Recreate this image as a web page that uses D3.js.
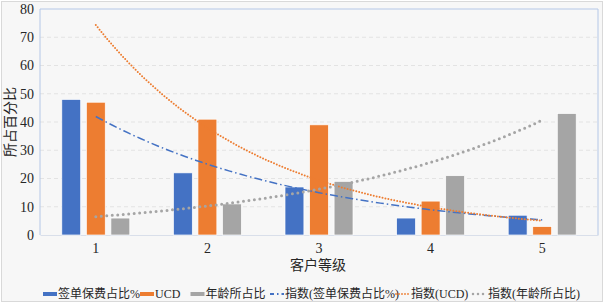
<!DOCTYPE html>
<html>
<head>
<meta charset="utf-8">
<script src="https://cdn.jsdelivr.net/npm/d3@7"></script>
<style>
  body { margin: 0; background: #fff; }
  text { font-family: "Liberation Serif", "Noto Sans CJK SC", serif; fill: #262626; }
</style>
</head>
<body>
<svg width="604" height="303"></svg>
<script>
// chart data
var categories = ["1", "2", "3", "4", "5"];
var premiumShare = [48, 22, 17, 6, 7];   // 签单保费占比%
var ucdShare = [47, 41, 39, 12, 3];      // UCD
var ageShare = [6, 11, 19, 21, 43];      // 年龄所占比
var yTicks = [0, 10, 20, 30, 40, 50, 60, 70, 80];

var seriesNames = ["签单保费占比%", "UCD", "年龄所占比"];
var trendNames = ["指数(签单保费占比%)", "指数(UCD)", "指数(年龄所占比)"];
var colors = ["#4472c4", "#ed7d31", "#a5a5a5"];
var allSeries = [premiumShare, ucdShare, ageShare];

var svg = d3.select("svg");
var plotLeft = 40, plotRight = 598, plotTop = 9, plotBottom = 235;

svg.append("rect")
  .attr("x", 1.5).attr("y", 1.5).attr("width", 601).attr("height", 300)
  .attr("fill", "#f7f7f7").attr("stroke", "#d9d9d9");

var x = d3.scaleBand().domain(categories).range([plotLeft, plotRight]);
var inner = d3.scaleBand().domain(d3.range(3)).range([-34, 34]).paddingInner(0.23);
var y = d3.scaleLinear().domain([0, 80]).range([plotBottom, plotTop]);

// grid
svg.append("g").selectAll("line")
  .data(yTicks.filter(function(d){ return d > 0 && d < 80; }))
  .enter().append("line")
  .attr("x1", plotLeft).attr("x2", plotRight)
  .attr("y1", function(d){ return y(d); }).attr("y2", function(d){ return y(d); })
  .attr("stroke", "#e3e3e3").attr("stroke-dasharray", "4,3");

// y axis labels
var yAxis = svg.append("g")
  .attr("transform", "translate(" + plotLeft + ",0)")
  .call(d3.axisLeft(y).tickValues(yTicks).tickSize(0).tickPadding(6));
yAxis.select(".domain").remove();
yAxis.selectAll("text").style("font-size", "14px")
  .style("font-family", "Liberation Serif").attr("fill", "#262626");

// x axis
var xAxis = svg.append("g")
  .attr("transform", "translate(0," + plotBottom + ")")
  .call(d3.axisBottom(x).tickSize(0).tickPadding(8));
xAxis.select(".domain").attr("stroke", "#d9dfea");
xAxis.selectAll("text").style("font-size", "14px")
  .style("font-family", "Liberation Serif").attr("fill", "#262626");

// plot area frame
svg.append("path")
  .attr("d", "M" + plotLeft + "," + plotBottom + "V" + plotTop + "H" + plotRight + "V" + plotBottom)
  .attr("fill", "none").attr("stroke", "#b4c7e7");

// bars
allSeries.forEach(function(vals, s) {
  svg.append("g").selectAll("rect")
    .data(vals).enter().append("rect")
    .attr("x", function(d, i){ return x(categories[i]) + x.bandwidth() / 2 + inner(s); })
    .attr("width", inner.bandwidth())
    .attr("y", function(d){ return y(d); })
    .attr("height", function(d){ return plotBottom - y(d); })
    .attr("fill", colors[s])
    .attr("stroke", "#fff").attr("stroke-width", 0.7);
});

// exponential trend lines (least squares on ln y, like Excel)
function expFit(vals) {
  var xs = vals.map(function(d, i){ return i + 1; });
  var ls = vals.map(function(d){ return Math.log(d); });
  var mx = d3.mean(xs), ml = d3.mean(ls);
  var num = 0, den = 0;
  xs.forEach(function(xi, i){ num += (xi - mx) * (ls[i] - ml); den += (xi - mx) * (xi - mx); });
  var b = num / den, a = ml - b * mx;
  return function(t){ return Math.exp(a + b * t); };
}
var xt = d3.scaleLinear().domain([1, 5])
  .range([x("1") + x.bandwidth() / 2, x("5") + x.bandwidth() / 2]);
var dashes = ["8,3,1.5,3", "0,3", "0,5.5"];
var widths = [1.5, 2, 3];
var caps = ["butt", "round", "round"];
var line = d3.line().x(function(d){ return xt(d[0]); }).y(function(d){ return y(d[1]); });
allSeries.forEach(function(vals, s) {
  var f = expFit(vals);
  var pts = d3.range(1, 5.001, 0.05).map(function(t){ return [t, f(t)]; });
  svg.append("path").datum(pts)
    .attr("d", line)
    .attr("fill", "none")
    .attr("stroke", colors[s])
    .attr("stroke-width", widths[s])
    .attr("stroke-dasharray", dashes[s])
    .attr("stroke-linecap", caps[s]);
});

// axis titles
svg.append("text")
  .attr("transform", "translate(15,122) rotate(-90)")
  .attr("text-anchor", "middle")
  .style("font-size", "14px")
  .text("所占百分比");
svg.append("text")
  .attr("x", 318).attr("y", 270)
  .attr("text-anchor", "middle")
  .style("font-size", "14px")
  .text("客户等级");

// legend
var legendX = [43, 140, 190.5];
seriesNames.forEach(function(name, s) {
  svg.append("rect").attr("x", legendX[s]).attr("y", 292)
    .attr("width", 14).attr("height", 4).attr("fill", colors[s]);
  svg.append("text").attr("x", legendX[s] + 15).attr("y", 298)
    .style("font-size", "12px").text(name);
});
var trendX = [270, 396, 473];
trendNames.forEach(function(name, s) {
  svg.append("line").attr("x1", trendX[s]).attr("x2", trendX[s] + 14)
    .attr("y1", 294).attr("y2", 294)
    .attr("stroke", colors[s])
    .attr("stroke-width", s == 2 ? 2.5 : 1.8)
    .attr("stroke-dasharray", s == 0 ? "4,3,1.5,3" : (s == 1 ? "0,3" : "0,5"))
    .attr("stroke-linecap", caps[s]);
  svg.append("text").attr("x", trendX[s] + 15).attr("y", 298)
    .style("font-size", "12px").text(name);
});
</script>
</body>
</html>
